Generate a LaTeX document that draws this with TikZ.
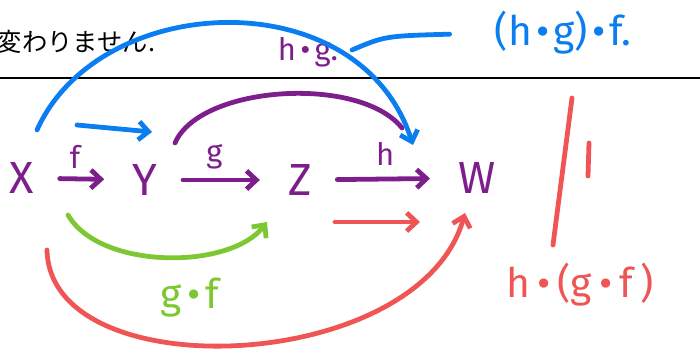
\documentclass[tikz,border=0pt]{standalone}
\usepackage{fontspec}
\setmainfont{Fira Sans}
\newfontfamily\jafont{Noto Sans CJK JP}
\usetikzlibrary{positioning,arrows.meta}

\definecolor{penpurple}{RGB}{125,30,140}
\definecolor{penblue}{RGB}{10,125,240}
\definecolor{pengreen}{RGB}{125,200,50}
\definecolor{penred}{RGB}{240,85,85}

\begin{document}
\begin{tikzpicture}[
        x=0.025cm, y=-0.025cm,
        pen/.style={line width=3.4pt, line cap=round, line join=round},
        tip/.style={-{Straight Barb[length=7pt, width=13pt]}},
        obj/.style={text=penpurple, font=\fontsize{32}{32}\selectfont, inner sep=2pt},
        map/.style={pen, tip, draw=penpurple, shorten <=16pt, shorten >=18pt},
        lbl/.style={font=\fontsize{22}{22}\selectfont, inner sep=2pt},
        big/.style={font=\fontsize{29}{29}\selectfont, inner sep=2pt}
    ]
        \clip (0,0) rectangle (700,353);

        \node[anchor=west, font=\jafont\fontsize{18}{18}\selectfont] (note) at (-8,42) {変わりません.};
        \draw[line width=1pt] (0,78) -- (700,78);

        \node[obj] (X) at (22,178) {X};
        \node[obj] (Y) at (145,180) {Y};
        \node[obj] (Z) at (300,180) {Z};
        \node[obj] (W) at (477,178) {W};

        \draw[map] (X) -- node[lbl, above=4pt, xshift=-6pt, text=penpurple] (f) {f} (Y);
        \draw[map] (Y) -- node[lbl, above=4pt, xshift=-6pt, text=penpurple] (g) {g} (Z);
        \draw[map] (Z) -- node[lbl, above=6pt, text=penpurple] (h) {h} (W);

        % h.g
        \coordinate (hg1) at (175,143);
        \coordinate (hg2) at (402,128);
        \draw[pen, draw=penpurple] (hg1) .. controls (200,85) and (360,75) .. (hg2);
        \node[lbl, text=penpurple] (lhg) at (308,52) {h\hspace{3pt}•\hspace{3pt}g.};

        % (h.g).f
        \coordinate (bf1) at (77,125);
        \coordinate (bf2) at (152,132);
        \draw[pen, tip, draw=penblue] (bf1) -- (bf2);
        \coordinate (b1) at (37,130);
        \coordinate (b2) at (413,145);
        \draw[pen, tip, draw=penblue] (b1) .. controls (100,-10) and (360,-20) .. (b2);
        \node[big, text=penblue] (lhgf) at (563,33) {(h\hspace{3pt}•\hspace{3pt}g)\hspace{3pt}•\hspace{3pt}f.};
        \coordinate (bp) at (352,50);
        \draw[pen, draw=penblue, shorten >=30pt] (bp) .. controls (385,36) .. (lhgf.west);

        % g.f
        \coordinate (gf1) at (68,215);
        \coordinate (gf2) at (267,222);
        \draw[pen, tip, draw=pengreen] (gf1) .. controls (100,270) and (230,270) .. (gf2);
        \node[big, text=pengreen] (lgf) at (190,298) {g\hspace{4pt}•\hspace{4pt}f};

        % h.(g.f)
        \coordinate (r1) at (47,250);
        \coordinate (r2) at (465,213);
        \draw[pen, tip, draw=penred] (r1) .. controls (50,390) and (420,375) .. (r2);
        \coordinate (ra) at (335,222);
        \coordinate (rb) at (420,222);
        \draw[pen, tip, draw=penred] (ra) -- (rb);
        \node[big, text=penred] (lhgf2) at (580,285) {h\hspace{5pt}•\hspace{5pt}(g\hspace{5pt}•\hspace{5pt}f\hspace{5pt})};

        % equal
        \draw[pen, draw=penred] (572,98) -- (553,245);
        \draw[pen, draw=penred] (589,143) -- (588,176);
    \end{tikzpicture}
\end{document}
